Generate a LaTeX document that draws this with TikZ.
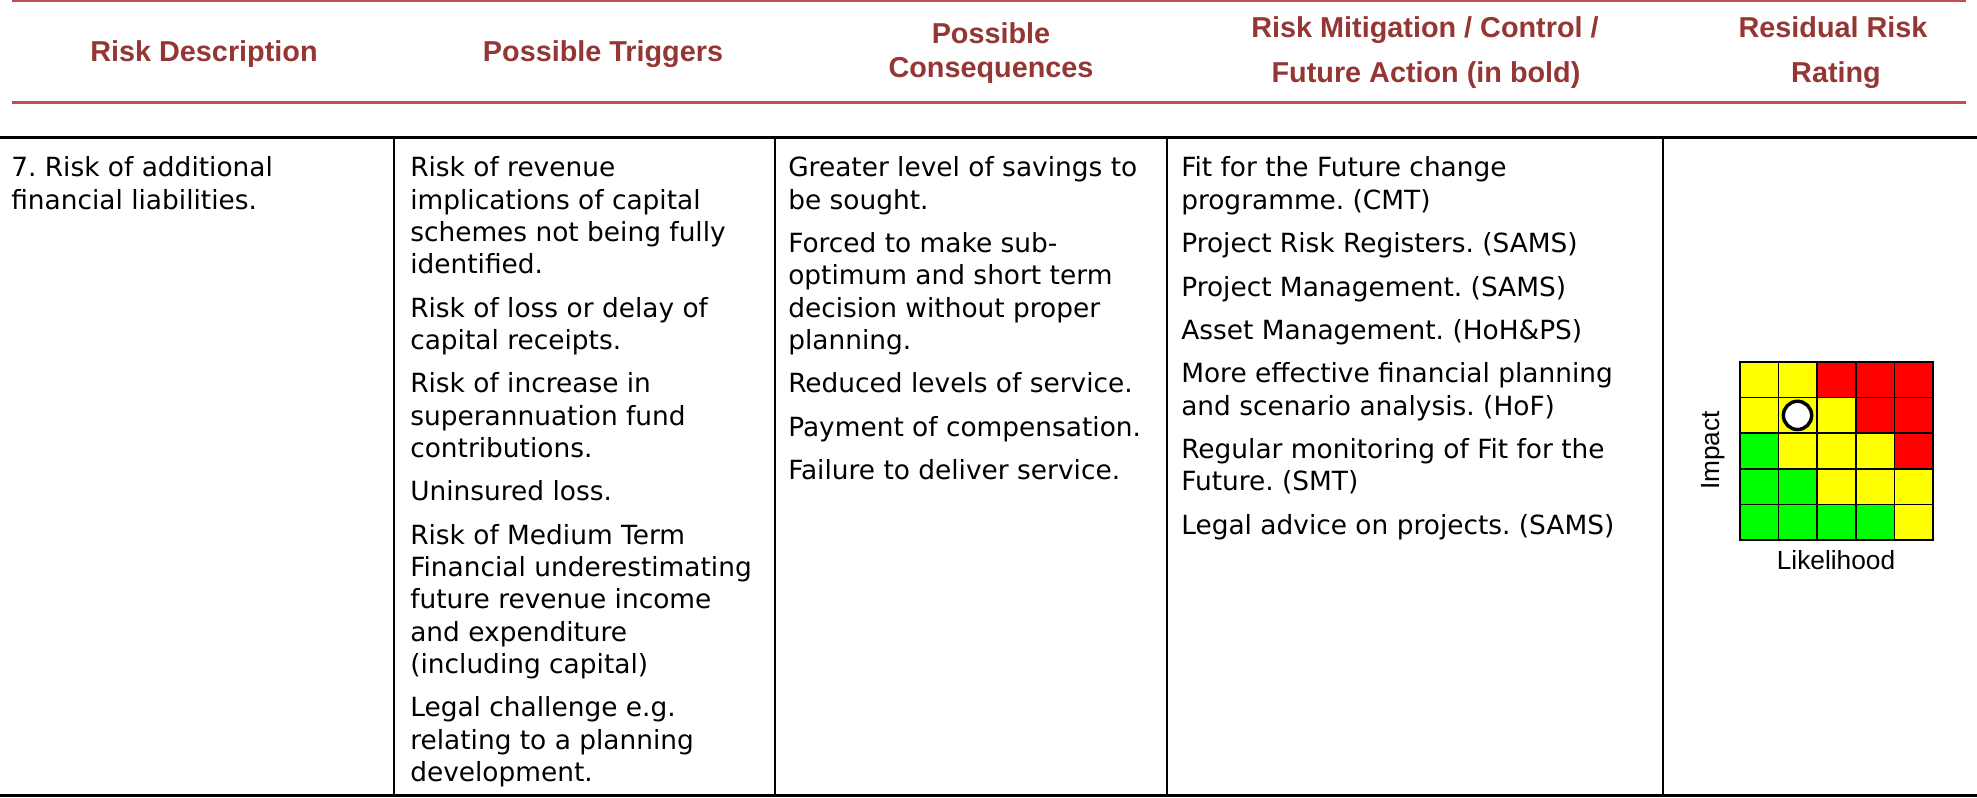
\documentclass[tikz,border=0pt]{standalone}
\usepackage{fontspec}
\setmainfont{DejaVu Sans}
\newfontfamily\headfont{Liberation Sans}
\frenchspacing

\definecolor{headred}{HTML}{943634}
\definecolor{rulered}{HTML}{C0504D}
\definecolor{rlow}{HTML}{00FF00}
\definecolor{rmid}{HTML}{FFFF00}
\definecolor{rhigh}{HTML}{FF0000}

\newcommand{\bodysize}{\fontsize{19.8pt}{24.2pt}\selectfont}
\newcommand{\headsize}{\headfont\bfseries\fontsize{21.6pt}{26pt}\selectfont}
\newcommand{\axsize}{\headfont\fontsize{19.7pt}{24pt}\selectfont}
\newcommand{\pskip}{8.4pt}

\begin{document}
\begin{tikzpicture}[x=0.75pt, y=0.75pt,
	hd/.style={anchor=base, inner sep=0pt, text=headred, font=\headsize},
	cell/.style={anchor=north west, inner sep=0pt, align=left, font=\bodysize},
	axlabel/.style={anchor=base, inner sep=0pt, font=\axsize},
	rline/.style={draw=rulered, line width=2pt},
	tline/.style={line width=1.6pt},
	box/.style={draw=black, line width=1.3pt}]
	\useasboundingbox (0,0) rectangle (1977,-798);
	% header rules
	\draw[rline] (12,-0.5) -- (1966,-0.5);
	\draw[rline] (12,-102.3) -- (1966,-102.3);
	% headings
	\node[hd] (hdesc) at (204,-62) {Risk Description};
	\node[hd] (htrig) at (603,-62) {Possible Triggers};
	\node[hd] (hcons1) at (991,-44) {Possible};
	\node[hd] (hcons2) at (991,-78) {Consequences};
	\node[hd] (hmit1) at (1425,-37.5) {Risk Mitigation / Control /};
	\node[hd] (hmit2) at (1426,-82.5) {Future Action (in bold)};
	\node[hd] (hres1) at (1833,-37.5) {Residual Risk};
	\node[hd] (hres2) at (1836,-82.5) {Rating};
	% table lines
	\draw[tline, line width=1.9pt] (0,-137.5) -- (1977,-137.5);
	\draw[tline, line width=1.9pt] (0,-795.5) -- (1977,-795.5);
	\foreach \x in {394,775,1167,1663}
		\draw[tline] (\x,-137.5) -- (\x,-795.5);
	% cells
	\node[cell] (desc) at (11,-154) {\strut 7. Risk of additional\\financial liabilities.};
	\node[cell] (trig) at (410,-154) {\strut Risk of revenue\\implications of capital\\schemes not being fully\\identified.\\[\pskip]
		Risk of loss or delay of\\capital receipts.\\[\pskip]
		Risk of increase in\\superannuation fund\\contributions.\\[\pskip]
		Uninsured loss.\\[\pskip]
		Risk of Medium Term\\Financial underestimating\\future revenue income\\and expenditure\\(including capital)\\[\pskip]
		Legal challenge e.g.\\relating to a planning\\development.};
	\node[cell] (cons) at (788,-154) {\strut Greater level of savings to\\be sought.\\[\pskip]
		Forced to make sub-\\optimum and short term\\decision without proper\\planning.\\[\pskip]
		Reduced levels of service.\\[\pskip]
		Payment of compensation.\\[\pskip]
		Failure to deliver service.};
	\node[cell] (mit) at (1181,-154) {\strut Fit for the Future change\\programme. (CMT)\\[\pskip]
		Project Risk Registers. (SAMS)\\[\pskip]
		Project Management. (SAMS)\\[\pskip]
		Asset Management. (HoH\&PS)\\[\pskip]
		More effective financial planning\\and scenario analysis. (HoF)\\[\pskip]
		Regular monitoring of Fit for the\\Future. (SMT)\\[\pskip]
		Legal advice on projects. (SAMS)};
	% risk matrix
	\foreach \cols [count=\r] in {{rmid,rmid,rhigh,rhigh,rhigh},{rmid,rmid,rmid,rhigh,rhigh},{rlow,rmid,rmid,rmid,rhigh},{rlow,rlow,rmid,rmid,rmid},{rlow,rlow,rlow,rlow,rmid}}
		\foreach \c [count=\k] in \cols
			\filldraw[box, fill=\c] ({1740+(\k-1)*38.6},{-362-(\r-1)*35.6}) rectangle ++(38.6,-35.6);
	\draw[line width=2.6pt, fill=white] (1797.5,-415.4) circle[radius=10.6pt];
	\node[axlabel, rotate=90] (impact) at (1719.5,-450.5) {Impact};
	\node[axlabel] (likeli) at (1836,-569) {Likelihood};
\end{tikzpicture}
\end{document}
